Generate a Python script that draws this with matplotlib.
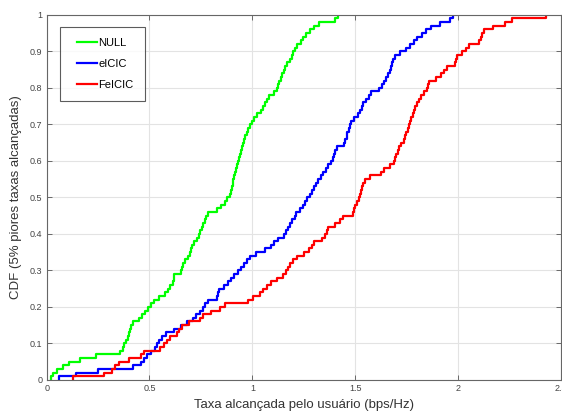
import numpy as np
import matplotlib
matplotlib.use("Agg")
import matplotlib.pyplot as plt
from matplotlib.lines import Line2D
from matplotlib.legend_handler import HandlerLine2D

# Taxas (bps/Hz) dos 5% piores usuários, ordenadas, para cada esquema
null_rate = [0.02, 0.03, 0.05, 0.08, 0.11, 0.16, 0.24, 0.355, 0.37, 0.378,
             0.385, 0.395, 0.40, 0.405, 0.41, 0.42, 0.45, 0.465, 0.48, 0.495,
             0.505, 0.52, 0.545, 0.575, 0.59, 0.60, 0.612, 0.617, 0.62, 0.655,
             0.66, 0.665, 0.675, 0.685, 0.695, 0.70, 0.708, 0.715, 0.73, 0.74,
             0.745, 0.755, 0.76, 0.768, 0.775, 0.785, 0.83, 0.85, 0.865, 0.876,
             0.89, 0.895, 0.90, 0.905, 0.908, 0.912, 0.915, 0.92, 0.925, 0.93,
             0.934, 0.938, 0.943, 0.948, 0.955, 0.96, 0.963, 0.972, 0.98, 0.987,
             1.0, 1.01, 1.025, 1.04, 1.05, 1.06, 1.07, 1.08, 1.105, 1.12,
             1.127, 1.132, 1.138, 1.145, 1.152, 1.16, 1.17, 1.185, 1.195, 1.20,
             1.205, 1.215, 1.235, 1.245, 1.26, 1.28, 1.30, 1.325, 1.40, 1.415]

eicic_rate = [0.06, 0.145, 0.25, 0.42, 0.46, 0.475, 0.49, 0.505, 0.525, 0.535,
              0.545, 0.56, 0.58, 0.62, 0.655, 0.68, 0.71, 0.725, 0.745, 0.76,
              0.77, 0.785, 0.83, 0.835, 0.84, 0.86, 0.88, 0.895, 0.91, 0.93,
              0.945, 0.96, 0.975, 0.99, 1.02, 1.06, 1.09, 1.105, 1.125, 1.155,
              1.165, 1.175, 1.185, 1.195, 1.205, 1.212, 1.23, 1.245, 1.258, 1.265,
              1.28, 1.29, 1.298, 1.31, 1.32, 1.335, 1.345, 1.36, 1.37, 1.38,
              1.39, 1.395, 1.40, 1.41, 1.445, 1.452, 1.458, 1.462, 1.468, 1.475,
              1.48, 1.495, 1.515, 1.525, 1.535, 1.54, 1.553, 1.565, 1.577, 1.615,
              1.63, 1.64, 1.65, 1.66, 1.667, 1.675, 1.68, 1.686, 1.695, 1.72,
              1.745, 1.765, 1.785, 1.80, 1.825, 1.845, 1.87, 1.91, 1.96, 1.975]

feicic_rate = [0.13, 0.28, 0.32, 0.33, 0.35, 0.40, 0.46, 0.475, 0.55, 0.57,
               0.585, 0.60, 0.635, 0.645, 0.656, 0.69, 0.745, 0.76, 0.80, 0.845,
               0.865, 0.98, 1.005, 1.035, 1.05, 1.07, 1.09, 1.12, 1.15, 1.165,
               1.175, 1.185, 1.20, 1.215, 1.25, 1.275, 1.29, 1.30, 1.34, 1.355,
               1.362, 1.367, 1.40, 1.425, 1.44, 1.487, 1.493, 1.497, 1.51, 1.52,
               1.525, 1.53, 1.533, 1.537, 1.55, 1.57, 1.625, 1.64, 1.67, 1.69,
               1.695, 1.70, 1.707, 1.714, 1.725, 1.735, 1.742, 1.748, 1.755, 1.76,
               1.765, 1.772, 1.78, 1.787, 1.792, 1.80, 1.81, 1.82, 1.835, 1.848,
               1.855, 1.86, 1.895, 1.915, 1.93, 1.945, 1.985, 1.99, 1.995, 2.02,
               2.04, 2.055, 2.10, 2.11, 2.115, 2.125, 2.17, 2.23, 2.26, 2.43]

series = [("NULL", null_rate, "#00ff00"),
          ("eICIC", eicic_rate, "#0000ff"),
          ("FeICIC", feicic_rate, "#ff0000")]

x_ticks = [0, 0.5, 1, 1.5, 2, 2.5]
x_tick_labels = ["0", "0.5", "1", "1.5", "2", "2.5"]
y_ticks = [0, 0.1, 0.2, 0.3, 0.4, 0.5, 0.6, 0.7, 0.8, 0.9, 1]
y_tick_labels = ["0", "0.1", "0.2", "0.3", "0.4", "0.5", "0.6", "0.7", "0.8", "0.9", "1"]

plt.rcParams["font.family"] = ["Liberation Sans", "DejaVu Sans"]

fig = plt.figure(figsize=(5.62, 4.12), dpi=100)
ax = fig.add_axes([0.083, 0.078, 0.915, 0.886])


def ecdf(values):
    """Curva em degraus da CDF empirica (comeca no menor valor, em zero)."""
    v = np.sort(np.asarray(values, dtype=float))
    n = len(v)
    xs = np.concatenate([[v[0]], v])
    ys = np.concatenate([[0.0], np.arange(1, n + 1) / n])
    return xs, ys


for name, vals, color in series:
    xs, ys = ecdf(vals)
    ax.step(xs, ys, where="post", color=color, lw=1.6, label=name)

ax.set_xlim(0, 2.5)
ax.set_ylim(0, 1)
ax.set_xticks(x_ticks)
ax.set_xticklabels(x_tick_labels)
ax.set_yticks(y_ticks)
ax.set_yticklabels(y_tick_labels)

ax.grid(True, color="#e3e3e3", lw=0.8)
ax.set_axisbelow(True)
ax.tick_params(direction="in", length=3.5, width=0.6, colors="#555555",
               labelcolor="#444444", labelsize=6.5, top=True, right=True, pad=3)
for sp in ax.spines.values():
    sp.set_color("#666666")
    sp.set_linewidth(0.8)

ax.set_xlabel("Taxa alcançada pelo usuário (bps/Hz)", fontsize=9.5,
              color="#333333", labelpad=4)
ax.set_ylabel("CDF (5% piores taxas alcançadas)", fontsize=9.5,
              color="#333333", labelpad=6)

leg = ax.legend(loc="upper left", bbox_to_anchor=(0.026, 0.968), fontsize=8,
                frameon=True, fancybox=False, edgecolor="#333333",
                handlelength=2.35, handletextpad=0.1, labelspacing=1.0,
                borderpad=1.0, borderaxespad=0,
                handler_map={Line2D: HandlerLine2D(xpad=0.5)})
leg.get_frame().set_linewidth(0.8)

fig.savefig("out.png", dpi=100)
